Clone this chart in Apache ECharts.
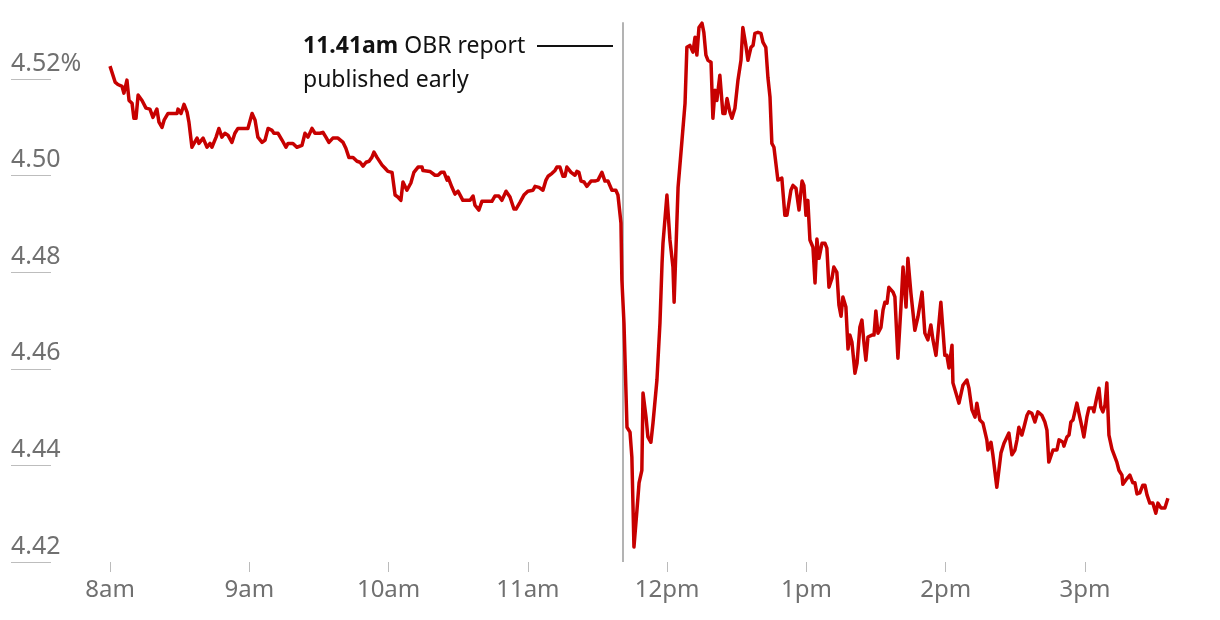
<!DOCTYPE html>
<html>
<head>
<meta charset="utf-8">
<script src="https://cdn.jsdelivr.net/npm/echarts@6/dist/echarts.min.js"></script>
<style>html,body{margin:0;padding:0;background:#fff}#c{width:1220px;height:620px}</style>
</head>
<body>
<div id="c"></div>
<script>
// minutes after 8am, 10-year gilt yield (%)
var quotes = [[0,4.5227],[2.2,4.5194],[3.4,4.5189],[5.2,4.5185],[6.0,4.5171],[7.3,4.5198],[8.2,4.5156],[9.5,4.5150],[10.3,4.5119],[11.2,4.5119],[12.1,4.5167],[13.8,4.5156],[15.5,4.5140],[17.2,4.5138],[18.5,4.5121],[20.2,4.5138],[21.1,4.5111],[22.4,4.5100],[23.3,4.5115],[25.0,4.5129],[27.1,4.5129],[28.9,4.5129],[29.3,4.5138],[30.6,4.5129],[31.9,4.5148],[33.2,4.5132],[34.0,4.5111],[35.3,4.5059],[36.2,4.5067],[37.5,4.5078],[38.3,4.5067],[40.1,4.5078],[41.8,4.5059],[43.1,4.5067],[43.9,4.5059],[45.7,4.5080],[46.9,4.5098],[48.2,4.5080],[49.5,4.5088],[50.8,4.5084],[52.5,4.5069],[53.8,4.5088],[55.1,4.5098],[59.4,4.5098],[61.2,4.5129],[62.5,4.5115],[63.7,4.5080],[65.5,4.5069],[66.8,4.5074],[68.1,4.5098],[69.8,4.5094],[70.6,4.5088],[72.4,4.5088],[74.1,4.5074],[75.8,4.5059],[76.7,4.5067],[78.8,4.5067],[80.5,4.5059],[82.7,4.5063],[84.0,4.5088],[85.3,4.5080],[87.0,4.5098],[88.3,4.5088],[90.4,4.5088],[91.7,4.5090],[93.0,4.5080],[94.3,4.5069],[96.0,4.5078],[98.2,4.5078],[100.4,4.5069],[101.6,4.5057],[102.9,4.5038],[104.7,4.5038],[106.4,4.5030],[107.7,4.5028],[109.0,4.5020],[110.3,4.5028],[111.6,4.5030],[112.8,4.5038],[113.7,4.5049],[115.0,4.5038],[117.2,4.5022],[118.4,4.5016],[119.7,4.5009],[121.5,4.5007],[122.8,4.4960],[124.0,4.4956],[125.3,4.4949],[126.2,4.4987],[127.9,4.4970],[129.6,4.4985],[130.9,4.5007],[132.7,4.5018],[134.4,4.5018],[134.8,4.5011],[137.8,4.5009],[140.0,4.5001],[141.3,4.5001],[142.6,4.5007],[143.9,4.5007],[145.2,4.4991],[145.6,4.4997],[147.3,4.4976],[148.6,4.4962],[149.9,4.4968],[152.0,4.4949],[155.1,4.4949],[156.4,4.4958],[157.2,4.4939],[158.9,4.4929],[160.2,4.4947],[164.5,4.4947],[165.8,4.4958],[167.5,4.4958],[168.8,4.4949],[170.6,4.4968],[172.3,4.4956],[174.0,4.4931],[174.9,4.4931],[176.6,4.4945],[178.3,4.4960],[180.0,4.4968],[182.2,4.4970],[183.1,4.4978],[184.8,4.4976],[186.5,4.4970],[187.8,4.4991],[188.7,4.4999],[190.4,4.5005],[191.7,4.5011],[192.5,4.5018],[193.8,4.5018],[195.1,4.4999],[196.0,4.4999],[196.8,4.5018],[198.6,4.5007],[199.4,4.5007],[200.3,4.5001],[201.1,4.5009],[202.0,4.5007],[202.9,4.4989],[204.2,4.4987],[205.4,4.4978],[207.2,4.4989],[208.9,4.4989],[210.2,4.4991],[211.9,4.5007],[213.2,4.4989],[214.5,4.4989],[216.2,4.4970],[217.9,4.4970],[218.8,4.4960],[220.1,4.4902],[220.5,4.4784],[221.4,4.4695],[222.7,4.4479],[224.0,4.4469],[224.8,4.4417],[225.7,4.4231],[227.0,4.4308],[227.9,4.4364],[229.1,4.4390],[229.6,4.4550],[230.9,4.4500],[231.7,4.4459],[233.0,4.4448],[233.9,4.4488],[234.7,4.4490],[235.6,4.4577],[236.9,4.4695],[237.8,4.4819],[238.2,4.4860],[239.9,4.4960],[241.2,4.4867],[242.5,4.4811],[243.0,4.4738],[244.7,4.4976],[246.4,4.5074],[247.7,4.5150],[248.5,4.5266],[249.8,4.5270],[251.1,4.5256],[252.0,4.5287],[252.8,4.5250],[253.7,4.5307],[255.0,4.5316],[255.8,4.5297],[256.7,4.5250],[257.6,4.5239],[258.9,4.5235],[259.7,4.5119],[260.6,4.5177],[261.4,4.5156],[262.7,4.5208],[264.0,4.5129],[264.9,4.5129],[265.8,4.5160],[267.0,4.5132],[267.9,4.5119],[269.2,4.5140],[270.5,4.5198],[271.8,4.5239],[272.6,4.5307],[273.9,4.5270],[274.8,4.5239],[276.1,4.5266],[277.0,4.5270],[277.8,4.5295],[279.1,4.5297],[280.4,4.5295],[281.3,4.5276],[282.5,4.5266],[283.4,4.5204],[284.3,4.5163],[285.1,4.5067],[286.0,4.5059],[287.7,4.4991],[289.4,4.4995],[290.7,4.4918],[291.6,4.4918],[293.3,4.4970],[294.2,4.4980],[295.5,4.4974],[296.8,4.4929],[298.1,4.4989],[298.9,4.4980],[299.8,4.4918],[300.6,4.4949],[301.5,4.4867],[302.8,4.4852],[303.7,4.4778],[304.5,4.4869],[305.4,4.4829],[306.7,4.4860],[308.0,4.4860],[308.8,4.4850],[309.7,4.4769],[311.0,4.4788],[311.8,4.4811],[313.1,4.4800],[314.0,4.4732],[314.9,4.4709],[315.7,4.4749],[317.0,4.4728],[317.9,4.4641],[318.7,4.4670],[319.6,4.4655],[320.9,4.4591],[321.8,4.4612],[323.0,4.4686],[323.9,4.4701],[324.8,4.4653],[325.6,4.4618],[326.5,4.4666],[328.2,4.4670],[329.1,4.4670],[329.9,4.4720],[330.8,4.4674],[332.1,4.4686],[333.0,4.4722],[333.8,4.4738],[334.7,4.4736],[335.5,4.4769],[337.3,4.4759],[338.1,4.4749],[339.4,4.4622],[340.7,4.4728],[341.6,4.4811],[342.9,4.4728],[343.7,4.4829],[345.0,4.4757],[346.7,4.4680],[348.0,4.4707],[349.8,4.4759],[351.0,4.4674],[352.3,4.4660],[353.6,4.4691],[354.5,4.4660],[355.8,4.4628],[357.9,4.4738],[359.6,4.4628],[360.5,4.4628],[361.4,4.4602],[362.7,4.4649],[363.1,4.4571],[365.7,4.4529],[367.4,4.4566],[369.1,4.4577],[370.0,4.4560],[371.3,4.4515],[372.6,4.4500],[373.4,4.4529],[374.7,4.4494],[376.0,4.4488],[377.7,4.4453],[378.2,4.4432],[379.5,4.4448],[380.3,4.4422],[382.0,4.4355],[382.5,4.4353],[383.8,4.4426],[385.1,4.4446],[387.2,4.4467],[388.5,4.4422],[389.8,4.4432],[390.7,4.4453],[391.5,4.4479],[392.8,4.4463],[393.7,4.4479],[395.0,4.4504],[395.8,4.4511],[397.1,4.4508],[398.4,4.4490],[399.7,4.4511],[401.4,4.4504],[402.7,4.4490],[403.6,4.4473],[404.4,4.4407],[406.2,4.4432],[407.9,4.4432],[408.8,4.4453],[410.5,4.4448],[410.9,4.4440],[412.2,4.4459],[413.1,4.4463],[413.9,4.4490],[414.8,4.4494],[416.5,4.4529],[417.4,4.4508],[418.7,4.4479],[419.5,4.4459],[420.8,4.4500],[421.7,4.4519],[423.4,4.4519],[423.8,4.4511],[425.1,4.4542],[426.0,4.4560],[426.8,4.4521],[427.7,4.4511],[428.6,4.4525],[429.4,4.4571],[430.3,4.4463],[431.6,4.4434],[432.4,4.4432],[433.7,4.4407],[434.6,4.4390],[435.9,4.4380],[436.3,4.4361],[437.6,4.4370],[439.3,4.4380],[440.6,4.4364],[441.5,4.4364],[442.4,4.4341],[443.6,4.4343],[444.9,4.4359],[445.8,4.4359],[446.7,4.4339],[447.9,4.4322],[449.2,4.4322],[450.5,4.4301],[451.4,4.4322],[452.7,4.4312],[454.4,4.4312],[455.7,4.4332]];

var xTickValues = [0, 60, 120, 180, 240, 300, 360, 420];
var xTickLabels = ['8am','9am','10am','11am','12pm','1pm','2pm','3pm'];
var yTickValues = [4.42, 4.44, 4.46, 4.48, 4.50, 4.52];
var xMax = 456;
var yMin = 4.42, yMax = 4.5364;
var eventMinute = 221;          // 11.41am
var eventTop = 4.5318;
var annotationBold = '11.41am';
var annotationText = ' OBR report';
var annotationText2 = 'published early';

var FONT = '"Noto Sans", "DejaVu Sans", sans-serif';
var chart = echarts.init(document.getElementById('c'), null, {renderer: 'canvas'});

function yFmt(v) {
  var idx = -1;
  for (var i = 0; i < yTickValues.length; i++) if (Math.abs(yTickValues[i] - v) < 1e-6) idx = i;
  if (idx < 0) return '';
  var s = yTickValues[idx].toFixed(2);
  return idx === yTickValues.length - 1 ? s + '%' : s;
}
function xFmt(v) {
  var i = xTickValues.indexOf(Math.round(v));
  return i >= 0 ? xTickLabels[i] : '';
}

var option = {
  animation: false,
  backgroundColor: '#ffffff',
  grid: [
    {left: 110, width: 1058.6, top: 0, height: 562},
    {left: 11, width: 40, top: 0, height: 562}
  ],
  xAxis: [
    {
      type: 'value', gridIndex: 0, min: 0, max: xMax, interval: 60,
      axisLine: {show: false},
      axisTick: {show: true, length: 10, customValues: xTickValues, lineStyle: {color: '#bbbbbb', width: 1}},
      splitLine: {show: false},
      axisLabel: {
        customValues: xTickValues,
        margin: 16, color: '#707070', fontSize: 24, fontFamily: FONT,
        formatter: xFmt
      }
    },
    {type: 'value', gridIndex: 1, min: 0, max: 1, show: false}
  ],
  yAxis: [
    {type: 'value', gridIndex: 0, min: yMin, max: yMax, interval: 0.02, show: false},
    {
      type: 'value', gridIndex: 1, min: yMin, max: yMax, interval: 0.02,
      axisLine: {show: false}, axisTick: {show: false},
      splitLine: {show: true, showMaxLine: false, lineStyle: {color: '#bdbdbd', width: 1}},
      axisLabel: {
        inside: true, margin: 0, align: 'left', verticalAlign: 'bottom',
        showMaxLabel: false,
        padding: [0, 0, 3, 0],
        color: '#707070', fontSize: 25, fontFamily: FONT,
        formatter: yFmt
      }
    }
  ],
  series: [{
    type: 'line', xAxisIndex: 0, yAxisIndex: 0,
    data: quotes, showSymbol: false, symbol: 'none', smooth: false,
    lineStyle: {color: '#c70000', width: 3.5, join: 'round'},
    z: 5,
    markLine: {
      silent: true, symbol: ['none', 'none'], animation: false,
      label: {show: false},
      lineStyle: {color: '#b3b3b3', width: 2, type: 'solid'},
      data: [[{coord: [eventMinute, eventTop]}, {coord: [eventMinute, yMin]}]]
    }
  }],
  graphic: [
    {
      type: 'text', left: 303, top: 35, z: 10,
      style: {
        text: '{b|' + annotationBold + '}{r|' + annotationText + '}\n{r|' + annotationText2 + '}',
        rich: {
          b: {fontFamily: FONT, fontSize: 23, fontWeight: 'bold', fill: '#121212', lineHeight: 34},
          r: {fontFamily: FONT, fontSize: 23, fill: '#121212', lineHeight: 34}
        }
      }
    },
    {type: 'line', z: 10, shape: {x1: 537, y1: 46, x2: 613, y2: 46}, style: {stroke: '#121212', lineWidth: 2}}
  ]
};
chart.setOption(option);
</script>
</body>
</html>
